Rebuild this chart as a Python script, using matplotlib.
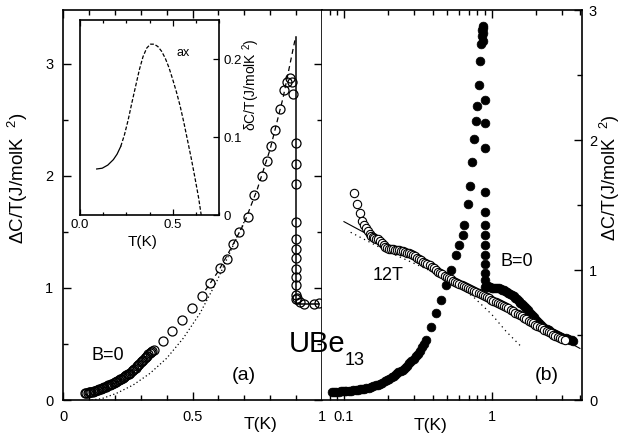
import matplotlib
matplotlib.use("Agg")
import matplotlib.pyplot as plt
from matplotlib.ticker import MultipleLocator, FixedLocator, NullFormatter, FixedFormatter, LogLocator

plt.rcParams['font.family'] = ['Liberation Sans', 'DejaVu Sans']
plt.rcParams['mathtext.fontset'] = 'custom'
plt.rcParams['mathtext.rm'] = 'Liberation Sans'
plt.rcParams['mathtext.it'] = 'Liberation Sans:italic'

# ---------------- data: panel (a), B=0, linear T ----------------
a_T = [0.085, 0.09, 0.095, 0.10, 0.105, 0.11, 0.115, 0.12, 0.125, 0.13, 0.135, 0.14, 0.145, 0.15,
       0.155, 0.16, 0.165, 0.17, 0.175, 0.18, 0.185, 0.19, 0.195, 0.20, 0.205, 0.21, 0.215, 0.22,
       0.225, 0.23, 0.235, 0.24, 0.245, 0.25, 0.255, 0.26, 0.265, 0.27, 0.275, 0.28, 0.285, 0.29,
       0.295, 0.30, 0.305, 0.31, 0.315, 0.32, 0.325, 0.33, 0.335, 0.34, 0.345, 0.35,
       0.387, 0.42, 0.458, 0.497, 0.535, 0.568, 0.606, 0.632, 0.658,
       0.681, 0.713, 0.739, 0.767, 0.787, 0.802, 0.819, 0.838, 0.854, 0.866, 0.876, 0.885, 0.887,
       0.898, 0.898, 0.898, 0.898, 0.898, 0.898, 0.898, 0.898, 0.898, 0.898, 0.898, 0.898,
       0.905, 0.915, 0.93, 0.97, 0.99]
a_C = [0.064, 0.065, 0.066, 0.067, 0.069, 0.071, 0.074, 0.077, 0.081, 0.085, 0.09, 0.095, 0.10, 0.105,
       0.11, 0.115, 0.12, 0.125, 0.13, 0.135, 0.14, 0.145, 0.151, 0.157, 0.163, 0.17, 0.176, 0.183,
       0.19, 0.197, 0.204, 0.212, 0.22, 0.228, 0.236, 0.245, 0.255, 0.265, 0.276, 0.288, 0.299, 0.31,
       0.322, 0.335, 0.348, 0.36, 0.372, 0.385, 0.397, 0.41, 0.42, 0.43, 0.438, 0.446,
       0.53, 0.616, 0.714, 0.818, 0.93, 1.04, 1.176, 1.256, 1.393,
       1.497, 1.637, 1.83, 2.0, 2.137, 2.262, 2.41, 2.60, 2.77, 2.84, 2.87, 2.84, 2.73,
       2.29, 2.11, 1.93, 1.59, 1.44, 1.345, 1.265, 1.17, 1.095, 1.027, 0.94, 0.90,
       0.91, 0.878, 0.857, 0.857, 0.863]

# dotted curve in (a)
a_dot_T = [0.11, 0.15, 0.207, 0.271, 0.336, 0.40, 0.464, 0.529, 0.593, 0.658, 0.703]
a_dot_C = [0.0, 0.012, 0.06, 0.134, 0.238, 0.372, 0.55, 0.774, 1.056, 1.384, 1.607]
# dashed fit through data in (a)
a_dash_T = [0.55, 0.60, 0.65, 0.70, 0.75, 0.80, 0.85, 0.898]
a_dash_C = [0.98, 1.15, 1.36, 1.58, 1.88, 2.24, 2.70, 3.24]
# solid jump in (a)
a_sol_T = [0.898, 0.898, 0.99]
a_sol_C = [3.24, 0.857, 0.857]

# inset: deltaC/T
in_T = [0.09, 0.12, 0.15, 0.18, 0.20, 0.22, 0.24, 0.26, 0.28, 0.30, 0.32, 0.34, 0.36, 0.38, 0.40,
        0.42, 0.44, 0.46, 0.48, 0.50, 0.52, 0.54, 0.56, 0.58, 0.60, 0.62, 0.64, 0.654]
in_C = [0.059, 0.060, 0.064, 0.071, 0.078, 0.088, 0.103, 0.122, 0.144, 0.165, 0.186, 0.203, 0.214, 0.219, 0.219,
        0.216, 0.21, 0.201, 0.189, 0.174, 0.158, 0.14, 0.119, 0.096, 0.073, 0.048, 0.022, 0.0]

# ---------------- data: panel (b), log T ----------------
b0_T = [0.083, 0.086, 0.089, 0.092, 0.095, 0.098, 0.101, 0.104, 0.108, 0.112, 0.116, 0.12, 0.124, 0.128,
        0.132, 0.137, 0.142, 0.147, 0.152, 0.158, 0.164, 0.17, 0.176, 0.182, 0.189, 0.196, 0.203, 0.21,
        0.218, 0.226, 0.234, 0.242, 0.25, 0.259, 0.268, 0.277, 0.286, 0.296, 0.306, 0.316, 0.326, 0.337,
        0.348, 0.36,
        0.389, 0.421, 0.455, 0.492, 0.532, 0.575, 0.606, 0.638, 0.655, 0.69, 0.709, 0.74, 0.766,
        0.787, 0.80, 0.82, 0.838, 0.851, 0.862, 0.868, 0.872, 0.875, 0.878, 0.88,
        0.896, 0.905, 0.905, 0.905, 0.905, 0.905, 0.905, 0.905, 0.905, 0.905, 0.905, 0.905, 0.905,
        0.92, 0.94, 0.96, 0.98, 1.0, 1.03, 1.06, 1.09, 1.12, 1.15, 1.18, 1.21, 1.24, 1.27, 1.3, 1.33,
        1.37, 1.41, 1.45, 1.49, 1.53, 1.57, 1.62, 1.67, 1.72, 1.77, 1.82, 1.88, 1.94, 2.0, 2.07, 2.14,
        2.21, 2.28, 2.36, 2.44, 2.52, 2.6, 2.69, 2.78, 2.87, 2.97, 3.07, 3.17, 3.28, 3.39, 3.5, 3.57]
b0_C = [0.064, 0.064, 0.065, 0.065, 0.066, 0.067, 0.068, 0.069, 0.07, 0.072, 0.074, 0.077, 0.079, 0.082,
        0.085, 0.088, 0.091, 0.095, 0.10, 0.106, 0.112, 0.119, 0.126, 0.134, 0.145, 0.155, 0.165, 0.175,
        0.187, 0.20, 0.212, 0.224, 0.233, 0.248, 0.265, 0.282, 0.298, 0.315, 0.335, 0.355, 0.378, 0.405,
        0.432, 0.46,
        0.564, 0.667, 0.77, 0.885, 1.0, 1.115, 1.19, 1.27, 1.346, 1.51, 1.65, 1.83, 2.01,
        2.15, 2.26, 2.42, 2.61, 2.74, 2.8, 2.85, 2.88, 2.86, 2.82, 2.76,
        2.31, 2.13, 1.94, 1.6, 1.45, 1.346, 1.27, 1.19, 1.115, 1.05, 0.975, 0.923, 0.87,
        0.88, 0.875, 0.87, 0.868, 0.865, 0.862, 0.86, 0.859, 0.858, 0.853, 0.848, 0.843, 0.836, 0.83, 0.824, 0.817,
        0.808, 0.797, 0.785, 0.774, 0.762, 0.75, 0.737, 0.722, 0.706, 0.69, 0.673, 0.656, 0.64, 0.618, 0.598, 0.582,
        0.569, 0.557, 0.545, 0.535, 0.526, 0.517, 0.508, 0.50, 0.493, 0.486, 0.48, 0.474, 0.468, 0.463, 0.458, 0.456]

b12_T = [0.117, 0.123, 0.128, 0.133, 0.137, 0.141, 0.145, 0.149, 0.153, 0.157, 0.161, 0.166, 0.171, 0.176,
         0.181, 0.186, 0.191, 0.197, 0.203, 0.209, 0.215, 0.221, 0.228, 0.235, 0.242, 0.25, 0.258, 0.266,
         0.275, 0.284, 0.293, 0.302, 0.312, 0.322, 0.333, 0.344, 0.355, 0.367, 0.38, 0.393, 0.406, 0.42,
         0.434, 0.449, 0.464, 0.48, 0.496, 0.513, 0.53, 0.548, 0.567, 0.586, 0.606, 0.627, 0.648, 0.67,
         0.693, 0.716, 0.74, 0.765, 0.79, 0.817, 0.845, 0.873, 0.903, 0.933, 0.965, 0.998, 1.03, 1.07,
         1.1, 1.14, 1.18, 1.22, 1.26, 1.3, 1.35, 1.4, 1.45, 1.5, 1.55, 1.6, 1.66, 1.72, 1.78, 1.84, 1.9,
         1.97, 2.04, 2.12, 2.2, 2.28, 2.36, 2.44, 2.53, 2.62, 2.71, 2.8, 2.9, 3.0, 3.14]
b12_C = [1.59, 1.51, 1.44, 1.38, 1.346, 1.32, 1.30, 1.28, 1.265, 1.255, 1.248, 1.242, 1.238, 1.225,
         1.21, 1.195, 1.18, 1.168, 1.162, 1.16, 1.158, 1.157, 1.155, 1.153, 1.15, 1.146, 1.14, 1.134,
         1.127, 1.12, 1.113, 1.104, 1.095, 1.085, 1.075, 1.065, 1.055, 1.045, 1.035, 1.025, 1.013, 1.0,
         0.988, 0.977, 0.967, 0.957, 0.948, 0.938, 0.928, 0.919, 0.91, 0.902, 0.894, 0.887, 0.88, 0.872,
         0.864, 0.857, 0.849, 0.84, 0.832, 0.823, 0.814, 0.806, 0.797, 0.789, 0.781, 0.773, 0.765, 0.756,
         0.749, 0.741, 0.732, 0.722, 0.713, 0.704, 0.693, 0.682, 0.671, 0.662, 0.654, 0.645, 0.634, 0.622, 0.611, 0.60, 0.59,
         0.58, 0.572, 0.564, 0.553, 0.542, 0.532, 0.522, 0.512, 0.502, 0.493, 0.484, 0.476, 0.468, 0.46]

b_sol_T = [0.10, 3.97]
b_sol_C = [1.372, 0.397]
b_dot_T = [0.111, 0.2, 0.3, 0.4, 0.55, 0.75, 1.0, 1.25, 1.59]
b_dot_C = [1.29, 1.14, 1.05, 0.985, 0.90, 0.795, 0.66, 0.53, 0.41]

W, H = 623, 440
fig = plt.figure(figsize=(W / 100, H / 100), dpi=100)

def fx(px):
    return px / W

def fy(py):
    return 1 - py / H

axL = fig.add_axes([fx(63), fy(400), (322 - 63) / W, 390 / H])
axR = fig.add_axes([fx(322), fy(400), (582 - 322) / W, 390 / H])
axI = fig.add_axes([fx(80), fy(215), (219 - 80) / W, (215 - 20) / H])

for ax in (axL, axR, axI):
    for s in ax.spines.values():
        s.set_linewidth(1.2)

# ----- panel (a)
axL.plot(a_dot_T, a_dot_C, color='black', lw=0.9, ls=(0, (1, 2)))
axL.plot(a_dash_T, a_dash_C, color='black', lw=0.9, ls=(0, (4, 3)))
axL.plot(a_sol_T, a_sol_C, color='black', lw=1.1)
axL.plot(a_T, a_C, ls='none', marker='o', ms=6.5, mfc='none', mec='black', mew=0.9)
axL.set_xlim(0, 1.0)
axL.set_ylim(0, 3.48)
axL.xaxis.set_major_locator(FixedLocator([0, 0.5, 1.0]))
axL.xaxis.set_major_formatter(FixedFormatter(['0', '0.5', '1']))
axL.xaxis.set_minor_locator(MultipleLocator(0.1))
axL.yaxis.set_major_locator(FixedLocator([0, 1, 2, 3]))
axL.yaxis.set_major_formatter(FixedFormatter(['0', '1', '2', '3']))
axL.yaxis.set_minor_locator(MultipleLocator(0.5))
axL.tick_params(which='both', direction='in', top=True, right=True, labelsize=10.5, width=1.0)
axL.tick_params(which='major', length=6, pad=7)
axL.tick_params(which='minor', length=3.5)

# ----- panel (b)
axR.set_xscale('log')
axR.plot(b_sol_T, b_sol_C, color='black', lw=0.8)
axR.plot(b_dot_T, b_dot_C, color='black', lw=0.9, ls=(0, (1, 3)))
axR.plot(b0_T, b0_C, ls='none', marker='o', ms=6.3, mfc='black', mec='black', mew=0.5)
axR.plot(b12_T, b12_C, ls='none', marker='o', ms=6.0, mfc='white', mec='black', mew=0.8)
axR.set_xlim(0.071, 4.1)
axR.set_ylim(0, 3.0)
axR.xaxis.set_major_locator(FixedLocator([0.1, 1.0]))
axR.xaxis.set_major_formatter(FixedFormatter(['0.1', '1']))
axR.xaxis.set_minor_locator(LogLocator(base=10, subs=[2, 3, 4, 5, 6, 7, 8, 9], numticks=20))
axR.xaxis.set_minor_formatter(NullFormatter())
axR.yaxis.set_major_locator(FixedLocator([0, 1, 2, 3]))
axR.yaxis.set_major_formatter(FixedFormatter(['0', '1', '2', '3']))
axR.yaxis.set_minor_locator(MultipleLocator(0.5))
axR.yaxis.tick_right()
axR.tick_params(which='both', direction='in', top=True, right=True, left=False, labelsize=10.5, width=1.0)
axR.tick_params(which='major', length=6, pad=7)
axR.tick_params(axis='y', which='major', pad=5)
axR.tick_params(which='minor', length=3.5)
axR.spines['left'].set_visible(False)

# ----- inset
split = 5
axI.plot(in_T[:split + 1], in_C[:split + 1], color='black', lw=0.9)
axI.plot(in_T[split:], in_C[split:], color='black', lw=0.9, ls=(0, (3, 1.5)))
axI.set_xlim(0, 0.75)
axI.set_ylim(0, 0.25)
axI.xaxis.set_major_locator(FixedLocator([0, 0.5]))
axI.xaxis.set_major_formatter(FixedFormatter(['0.0', '0.5']))
axI.xaxis.set_minor_locator(MultipleLocator(0.125))
axI.yaxis.set_major_locator(FixedLocator([0, 0.1, 0.2]))
axI.yaxis.set_major_formatter(FixedFormatter(['0', '0.1', '0.2']))
axI.yaxis.tick_right()
axI.tick_params(which='both', direction='in', top=True, right=True, left=False, labelsize=9.5, width=0.9)
axI.tick_params(which='major', length=4, pad=3)
axI.tick_params(which='minor', length=2.5)
axI.text(0.52, 0.204, 'ax', fontsize=9)

# ----- labels and annotations
fig.text(fx(143), fy(242), 'T(K)', ha='center', va='center', fontsize=11)
fig.text(fx(251), fy(85), 'δC/T(J/molK $^{2}$)', ha='center', va='center', rotation=90, fontsize=10)
fig.text(fx(18), fy(178), 'ΔC/T(J/molK  $^{2}$)', ha='center', va='center', rotation=90, fontsize=13.5)
fig.text(fx(610), fy(178), 'ΔC/T(J/molK  $^{2}$)', ha='center', va='center', rotation=90, fontsize=13)
fig.text(fx(261), fy(424), 'T(K)', ha='center', va='center', fontsize=12.5)
fig.text(fx(431), fy(425), 'T(K)', ha='center', va='center', fontsize=12.5)
fig.text(fx(108), fy(355), 'B=0', ha='center', va='center', fontsize=13)
fig.text(fx(244), fy(375), '(a)', ha='center', va='center', fontsize=14)
fig.text(fx(547), fy(375), '(b)', ha='center', va='center', fontsize=14)
fig.text(fx(388), fy(275), '12T', ha='center', va='center', fontsize=13)
fig.text(fx(517), fy(261), 'B=0', ha='center', va='center', fontsize=13)
fig.text(fx(289), fy(352), 'UBe', ha='left', va='baseline', fontsize=21)
fig.text(fx(345), fy(365), '13', ha='left', va='baseline', fontsize=13)

fig.savefig('out.png', dpi=100)
